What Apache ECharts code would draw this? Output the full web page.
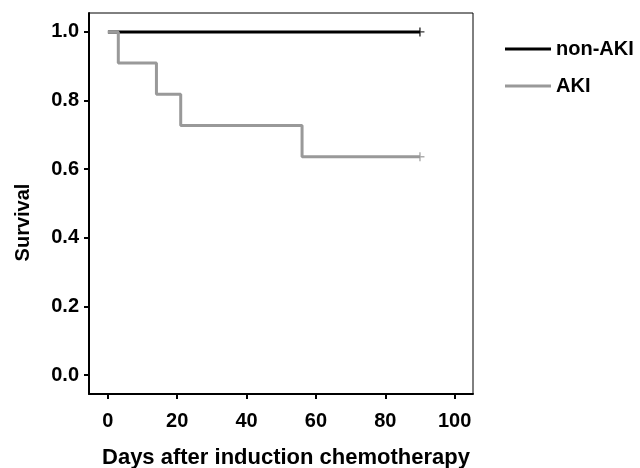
<!DOCTYPE html>
<html>
<head>
<meta charset="utf-8">
<script src="https://cdn.jsdelivr.net/npm/echarts@6/dist/echarts.min.js"></script>
<style>
  html, body { margin: 0; padding: 0; background: #fff; }
  #chart { width: 640px; height: 468px; }
</style>
</head>
<body>
<div id="chart"></div>
<script>
// --- Data ---
const seriesNames = ['non-AKI', 'AKI'];
const nonAkiTimes = [0, 90];
const nonAkiSurvival = [1.0, 1.0];
const akiTimes = [0, 3, 14, 21, 56, 90];
const akiSurvival = [1.0, 0.909, 0.818, 0.727, 0.636, 0.636];
const censorNonAki = [[90, 1.0]];
const censorAki = [[90, 0.636]];
const xTicks = [0, 20, 40, 60, 80, 100];
const yTicks = [0, 0.2, 0.4, 0.6, 0.8, 1.0];

const colors = ['#000000', '#999999'];
const font = 'Liberation Sans, Arial, sans-serif';
// censor mark: small plus sign
const plus = 'path://M4.2,0H5.8V10H4.2Z M0,4.2H10V5.8H0Z';

const chart = echarts.init(document.getElementById('chart'));

const option = {
    animation: false,
    grid: {
        left: 89, right: 167, top: 13, bottom: 74,
        outerBoundsMode: 'none',
        containLabel: false,
        show: true, borderColor: '#000', borderWidth: 1
    },
    legend: {
        orient: 'vertical',
        left: 505, top: 39,
        padding: 0,
        itemWidth: 46, itemHeight: 3, itemGap: 17,
        icon: 'rect',
        textStyle: { fontFamily: font, fontWeight: 'bold', fontSize: 20, color: '#000' },
        data: seriesNames
    },
    xAxis: {
        type: 'value',
        min: -5.45, max: 105.3,
        name: 'Days after induction chemotherapy',
        nameLocation: 'middle', nameGap: 53,
        nameTextStyle: { fontFamily: font, fontWeight: 'bold', fontSize: 22, color: '#000', padding: [0, 0, 0, 10] },
        axisLine: { show: true, onZero: false, lineStyle: { color: '#000', width: 2 } },
        axisTick: { show: true, length: 5, lineStyle: { color: '#000', width: 2 }, customValues: xTicks },
        axisLabel: { fontFamily: font, fontWeight: 'bold', fontSize: 20, color: '#000', margin: 17, customValues: xTicks },
        splitLine: { show: false }
    },
    yAxis: {
        type: 'value',
        min: -0.055, max: 1.055,
        name: 'Survival',
        nameLocation: 'middle', nameGap: 56,
        nameTextStyle: { fontFamily: font, fontWeight: 'bold', fontSize: 20, color: '#000', padding: [0, 38, 0, 0] },
        axisLine: { show: true, onZero: false, lineStyle: { color: '#000', width: 2 } },
        axisTick: { show: true, length: 5, lineStyle: { color: '#000', width: 2 }, customValues: yTicks },
        axisLabel: {
            fontFamily: font, fontWeight: 'bold', fontSize: 20, color: '#000', margin: 10,
            customValues: yTicks,
            formatter: v => v.toFixed(1)
        },
        splitLine: { show: false }
    },
    series: [
        {
            name: seriesNames[0],
            type: 'line',
            step: 'end',
            symbol: 'none',
            color: colors[0],
            lineStyle: { color: colors[0], width: 3 },
            data: nonAkiTimes.map((t, i) => [t, nonAkiSurvival[i]])
        },
        {
            name: seriesNames[1],
            type: 'line',
            step: 'end',
            symbol: 'none',
            color: colors[1],
            lineStyle: { color: colors[1], width: 3 },
            data: akiTimes.map((t, i) => [t, akiSurvival[i]])
        },
        {
            type: 'scatter',
            symbol: plus, symbolSize: 9,
            itemStyle: { color: colors[0] },
            data: censorNonAki
        },
        {
            type: 'scatter',
            symbol: plus, symbolSize: 9,
            itemStyle: { color: colors[1] },
            data: censorAki
        }
    ]
};

chart.setOption(option);
</script>
</body>
</html>
